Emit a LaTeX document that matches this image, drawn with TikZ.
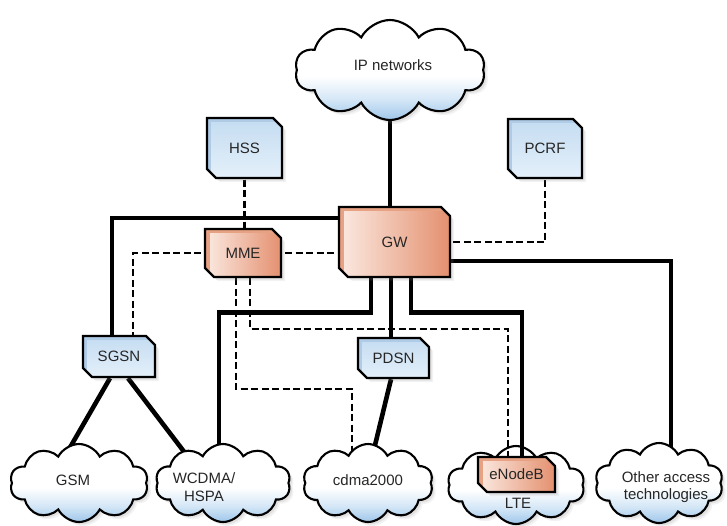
\documentclass[tikz,border=0pt]{standalone}
\usepackage{fontspec}
\setmainfont{Liberation Sans}
\usetikzlibrary{shapes.misc,shapes.symbols,shadows}
\definecolor{txt}{HTML}{262626}
\definecolor{blA}{HTML}{C4DCF1}
\definecolor{blB}{HTML}{E4F0FA}
\definecolor{blS}{HTML}{AFCBE6}
\definecolor{orA}{HTML}{FBEAE2}
\definecolor{orB}{HTML}{E4906F}
\definecolor{orS}{HTML}{E7A183}
\definecolor{clB}{HTML}{9EC6EA}
\definecolor{clM}{HTML}{D3E6F6}
\pgfdeclareverticalshading{cloudsh}{100bp}{color(0bp)=(clB); color(25bp)=(clB); color(35bp)=(clM); color(47bp)=(white); color(100bp)=(white)}
\pgfdeclarelayer{under}
\pgfdeclarelayer{clouds}
\pgfdeclarelayer{over}
\pgfsetlayers{under,clouds,over,main}
\begin{document}
\begin{tikzpicture}[x=1pt,y=-1pt,
  font=\fontsize{15}{17.5}\selectfont,
  lbl/.style={text=txt, inner sep=0pt, align=center},
  softshadow/.style={
    drop shadow={shadow xshift=4pt,shadow yshift=-4pt,opacity=.10},
    drop shadow={shadow xshift=2.5pt,shadow yshift=-2.5pt,opacity=.15}},
  box/.style={chamfered rectangle, chamfered rectangle corners={north east,south west},
    chamfered rectangle xsep=4.5pt, chamfered rectangle ysep=4.5pt,
    draw=black, line width=2.4pt, inner sep=0pt, text=txt, softshadow},
  bluebox/.style={box, top color=blA, bottom color=blB,
    path picture={
      \fill[blS] (path picture bounding box.north west) rectangle ([yshift=-4pt]path picture bounding box.north east);
      \fill[blS] (path picture bounding box.north west) rectangle ([xshift=4pt]path picture bounding box.south west);}},
  orbox/.style={box, left color=orA, right color=orB,
    path picture={
      \fill[orS] (path picture bounding box.north west) rectangle ([yshift=-4pt]path picture bounding box.north east);
      \fill[orS] (path picture bounding box.north west) rectangle ([xshift=5pt]path picture bounding box.south west);}},
  cloudn/.style={cloud, cloud puffs=10, cloud puff arc=125, cloud ignores aspect,
    draw=black, line width=2.1pt, inner sep=0pt,
    shading=cloudsh, softshadow},
  thk/.style={line width=4.6pt},
  dsh/.style={line width=2.2pt, dash pattern=on 7pt off 3.5pt}
]
\useasboundingbox (0,0) rectangle (727,525);

% ---------- clouds ----------
\begin{pgfonlayer}{clouds}
\node[cloudn, minimum width=190pt, minimum height=100pt] (ip) at (390,70) {};
\node[cloudn, minimum width=138pt, minimum height=78pt] (gsm) at (79,483) {};
\node[cloudn, minimum width=135pt, minimum height=78pt] (wcdma) at (223,483) {};
\node[cloudn, minimum width=130pt, minimum height=78pt] (cdma) at (368,483) {};
\node[cloudn, minimum width=137pt, minimum height=78pt] (lte) at (516,485) {};
\node[cloudn, minimum width=128pt, minimum height=80pt] (other) at (659,483) {};
\node[lbl] (iptxt) at (393,65) {IP networks};
\node[lbl] (gsmtxt) at (73,480) {GSM};
\node[lbl] (wcdmatxt) at (204,487) {WCDMA/\\HSPA};
\node[lbl] (cdmatxt) at (368,480) {cdma2000};
\node[lbl] (ltetxt) at (518,503) {LTE};
\node[lbl] (othertxt) at (666,487) {Other access\\technologies};
\end{pgfonlayer}

% ---------- boxes ----------
\node[bluebox, minimum width=75pt, minimum height=60pt] (hss) at (244.5,148) {HSS};
\node[bluebox, minimum width=74pt, minimum height=59pt] (pcrf) at (545,148.5) {PCRF};
\node[orbox, minimum width=111pt, minimum height=70pt] (gw) at (394.5,242) {GW};
\node[orbox, minimum width=76pt, minimum height=48pt] (mme) at (243,253) {MME};
\node[bluebox, minimum width=72pt, minimum height=41pt] (sgsn) at (119,356.5) {SGSN};
\node[bluebox, minimum width=71pt, minimum height=40pt] (pdsn) at (393.5,358) {PDSN};
\node[orbox, minimum width=77pt, minimum height=35pt] (enb) at (516.5,474.5) {eNodeB};

% ---------- connectors hidden under clouds ----------
\begin{pgfonlayer}{under}
\draw[thk] (ip.center) -- (ip.center |- gw.center);
\draw[thk] ([xshift=-23.5pt]gw.south) -- ++(0,34) -| ([xshift=-4pt]wcdma.center);
\draw[thk] ([yshift=-19pt]gw.east) -| ([xshift=12pt]other.center);
\draw[thk] ([xshift=-9pt]sgsn.south) -- ([xshift=-22pt,yshift=13pt]gsm.center);
\draw[thk] ([xshift=9pt]sgsn.south) -- ([xshift=-25pt,yshift=13pt]wcdma.center);
\draw[thk] ([xshift=-2.5pt]pdsn.south) -- ([xshift=1pt,yshift=13pt]cdma.center);
\draw[dsh] ([xshift=-7pt]mme.south) -- ++(0,111) -| ([xshift=-16pt]cdma.center);
\end{pgfonlayer}

% ---------- other connectors ----------
\begin{pgfonlayer}{over}
\draw[thk] ([yshift=24pt]gw.west) -| ([xshift=-7pt]sgsn.center);
\draw[thk] ([xshift=-3.5pt]gw.south) -- ([xshift=-3.5pt]gw.south |- pdsn.center);
\draw[thk] ([xshift=16.5pt]gw.south) -- ++(0,34) -| ([xshift=5.5pt]enb.center);
\draw[dsh] (hss.center) -- (hss.center |- mme.center);
\draw[dsh] (pcrf.center) |- (gw.center);
\draw[dsh] (mme.center) -| ([xshift=14pt]sgsn.center);
\draw[dsh] (mme.center) -- (mme.center -| gw.center);
\draw[dsh] ([xshift=7pt]mme.south) -- ++(0,51) -| ([xshift=-8.5pt]enb.center);
\end{pgfonlayer}
\end{tikzpicture}
\end{document}
